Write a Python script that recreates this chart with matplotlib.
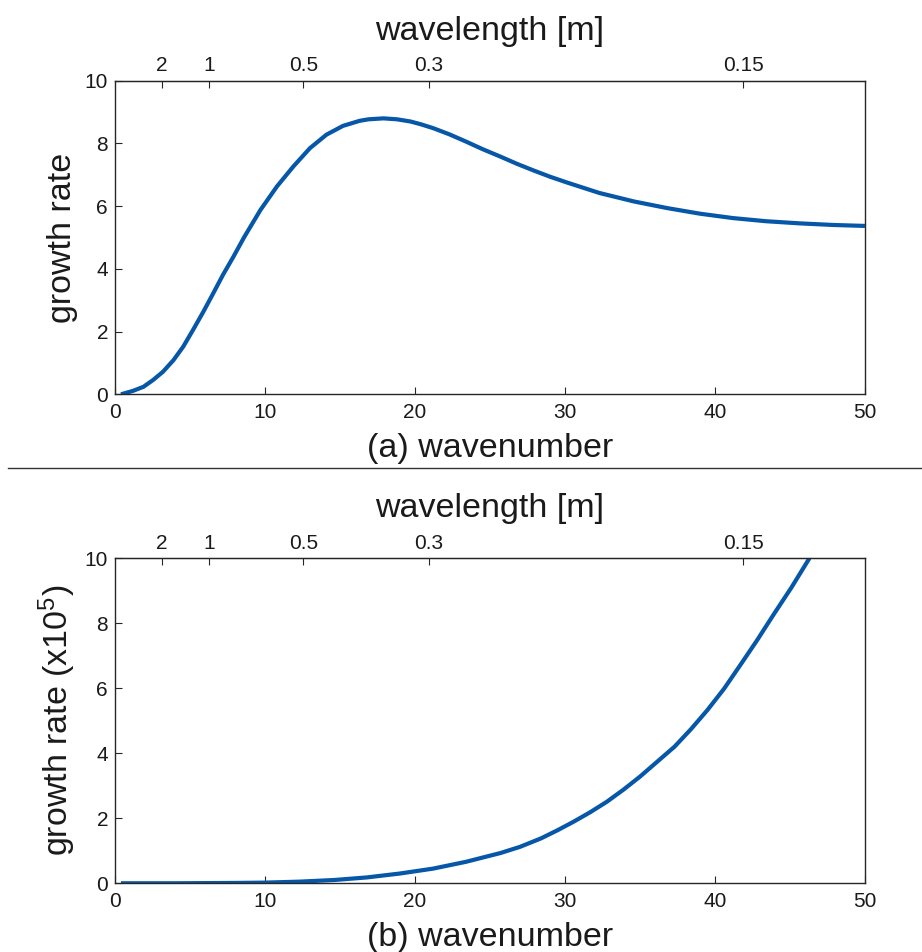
"""Growth rate vs wavenumber, with wavelength on the top axis."""
import matplotlib

matplotlib.use("Agg")
import matplotlib.pyplot as plt
import numpy as np
from matplotlib.lines import Line2D

plt.rcParams["font.family"] = ["Liberation Sans", "DejaVu Sans"]
plt.rcParams["mathtext.default"] = "regular"

# values
k_a = [0.4, 1.2, 1.9, 2.55, 3.2, 3.9, 4.55, 5.2, 5.9, 6.55, 7.2, 7.9, 8.6, 9.7,
       10.8, 11.9, 13.0, 14.1, 15.2, 16.3, 16.9, 17.9, 18.8, 19.7, 20.4, 21.2,
       22.3, 23.4, 24.5, 25.7, 26.8, 27.9, 29.0, 30.1, 32.3, 34.6, 36.8, 39.0,
       41.2, 43.4, 45.7, 47.9, 50.0]
growth_a = [0.0, 0.11, 0.24, 0.46, 0.72, 1.09, 1.52, 2.05, 2.64, 3.22, 3.81, 4.39,
            5.0, 5.88, 6.63, 7.27, 7.85, 8.28, 8.56, 8.72, 8.77, 8.80, 8.77, 8.70,
            8.61, 8.49, 8.29, 8.06, 7.82, 7.58, 7.35, 7.14, 6.94, 6.76, 6.42, 6.15,
            5.94, 5.76, 5.62, 5.52, 5.45, 5.40, 5.37]

k_b = [0.4, 4.0, 8.0, 10.0, 12.3, 14.6, 16.8, 19.0, 21.2, 23.4, 25.7, 27.0, 28.4,
       29.5, 30.6, 31.7, 32.8, 33.9, 35.0, 36.1, 37.3, 38.4, 39.5, 40.6, 41.7,
       42.8, 43.9, 45.1, 46.3]
growth_b = [0.0, 0.0, 0.01, 0.02, 0.05, 0.10, 0.18, 0.30, 0.45, 0.66, 0.93, 1.12,
            1.38, 1.63, 1.90, 2.19, 2.51, 2.88, 3.28, 3.72, 4.20, 4.74, 5.33, 5.98,
            6.72, 7.47, 8.26, 9.10, 10.0]

x_ticks = [0, 10, 20, 30, 40, 50]
y_ticks = [0, 2, 4, 6, 8, 10]
wavelength_ticks = [2, 1, 0.5, 0.3, 0.15]
wavelength_labels = ["2", "1", "0.5", "0.3", "0.15"]

LINE = "#0657a8"
AX = "#262626"


def k_to_lam(k):
    # k = 2*pi/lambda, same map both ways; clamp to keep limits finite
    k = np.asarray(k, dtype=float)
    return 2 * np.pi / np.maximum(k, 1e-3)


def style_axes(ax, k, g, xlabel, ylabel):
    ax.plot(k, g, color=LINE, lw=3.0, solid_capstyle="butt", solid_joinstyle="round")
    ax.set_xlim(0, 50)
    ax.set_ylim(0, 10)
    ax.set_xticks(x_ticks)
    ax.set_yticks(y_ticks)
    for s in ax.spines.values():
        s.set_color(AX)
        s.set_linewidth(1.0)
    ax.tick_params(direction="in", length=5, width=0.8, colors=AX, labelsize=15,
                   labelcolor="#1a1a1a", top=False, right=False)
    ax.tick_params(axis="x", pad=6)
    ax.tick_params(axis="y", pad=5)
    ax.set_xlabel(xlabel, fontsize=24.5, labelpad=8, color="#1a1a1a")
    ax.set_ylabel(ylabel, fontsize=24.5, labelpad=5, color="#1a1a1a")

    sec = ax.secondary_xaxis("top", functions=(k_to_lam, k_to_lam))
    sec.set_xticks(wavelength_ticks)
    sec.set_xticklabels(wavelength_labels)
    sec.spines["top"].set_color(AX)
    sec.tick_params(direction="in", length=5, width=0.8, colors=AX, labelsize=15,
                    labelcolor="#1a1a1a", pad=4)
    sec.set_xlabel("wavelength [m]", fontsize=24.5, labelpad=12, color="#1a1a1a")


def main():
    fig = plt.figure(figsize=(9.22, 9.52), dpi=100)
    ax_a = fig.add_axes([0.1247, 0.5858, 0.8134, 0.3294])
    ax_b = fig.add_axes([0.1247, 0.0722, 0.8134, 0.3414])
    style_axes(ax_a, k_a, growth_a, "(a) wavenumber", "growth rate")
    style_axes(ax_b, k_b, growth_b, "(b) wavenumber", "growth rate (x10$^5$)")

    # separator between the two panels
    fig.add_artist(Line2D([0.009, 1.0], [0.5084, 0.5084], color="#333333", lw=1.0,
                          transform=fig.transFigure))
    fig.savefig("out.png", dpi=100)
    plt.close(fig)


if __name__ == "__main__":
    main()
